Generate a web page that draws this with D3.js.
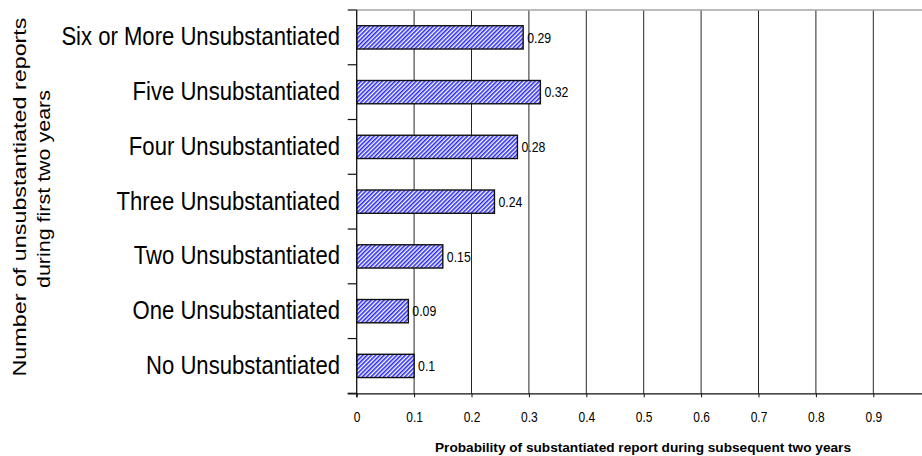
<!DOCTYPE html>
<html>
<head>
<meta charset="utf-8">
<script src="https://cdn.jsdelivr.net/npm/d3@7"></script>
<style>
  html, body { margin: 0; padding: 0; background: #fff; }
  svg { display: block; font-family: "Liberation Sans", Arial, sans-serif; }
</style>
</head>
<body>
<svg id="chart" width="922" height="456"></svg>
<script>
// Categories (top to bottom) and the probability for each
const categories = [
  "Six or More Unsubstantiated",
  "Five Unsubstantiated",
  "Four Unsubstantiated",
  "Three Unsubstantiated",
  "Two Unsubstantiated",
  "One Unsubstantiated",
  "No Unsubstantiated"
];
const probabilities = [0.29, 0.32, 0.28, 0.24, 0.15, 0.09, 0.1];
const xTickValues = [0, 0.1, 0.2, 0.3, 0.4, 0.5, 0.6, 0.7, 0.8, 0.9];
const xTickLabels = ["0", "0.1", "0.2", "0.3", "0.4", "0.5", "0.6", "0.7", "0.8", "0.9"];
const gridValues = [0.1, 0.2, 0.3, 0.4, 0.5, 0.6, 0.7, 0.8, 0.9, 1.0];
const yTitleLines = ["Number of unsubstantiated reports", "during first two years"];
const xTitle = "Probability of substantiated report during subsequent two years";

const data = categories.map((c, i) => ({ category: c, value: probabilities[i] }));

const svg = d3.select("#chart");
const plot = { left: 356.7, right: 930.7, top: 10, bottom: 393.3 };

const x = d3.scaleLinear().domain([0, 1]).range([plot.left, plot.right]);
const y = d3.scaleBand().domain(categories)
  .range([plot.top, plot.bottom])
  .paddingInner(0.575).paddingOuter(0.2875);

// Hatched fill for the bars
const defs = svg.append("defs");
const pat = defs.append("pattern")
  .attr("id", "hatch")
  .attr("patternUnits", "userSpaceOnUse")
  .attr("width", 3).attr("height", 3)
  .attr("patternTransform", "rotate(45)");
pat.append("rect").attr("width", 3).attr("height", 3).attr("fill", "#ffffff");
pat.append("rect").attr("width", 1.6).attr("height", 3).attr("fill", "#2a2af2");

// Vertical gridlines
svg.append("g")
  .selectAll("line")
  .data(gridValues)
  .join("line")
  .attr("x1", d => x(d)).attr("x2", d => x(d))
  .attr("y1", plot.top).attr("y2", plot.bottom)
  .attr("stroke", "#262626").attr("stroke-width", 1);

// Top border of the plot area
svg.append("line")
  .attr("x1", plot.left).attr("x2", 922)
  .attr("y1", plot.top).attr("y2", plot.top)
  .attr("stroke", "#a6a6a6").attr("stroke-width", 1.6);

// Bars
svg.append("g")
  .selectAll("rect")
  .data(data)
  .join("rect")
  .attr("x", x(0))
  .attr("y", d => y(d.category))
  .attr("width", d => x(d.value) - x(0))
  .attr("height", y.bandwidth())
  .attr("fill", "url(#hatch)")
  .attr("stroke", "#111")
  .attr("stroke-width", 1.4);

// Value labels
svg.append("g")
  .selectAll("text")
  .data(data)
  .join("text")
  .attr("transform", d => `translate(${x(d.value) + 4},${y(d.category) + y.bandwidth() / 2 + 5.3}) scale(0.82,1)`)
  .attr("font-size", 15)
  .attr("fill", "#000")
  .text(d => d.value);

// X axis
const xAxis = d3.axisBottom(x)
  .tickValues(xTickValues)
  .tickFormat((d, i) => xTickLabels[i])
  .tickSize(4)
  .tickSizeOuter(0);
const gx = svg.append("g")
  .attr("transform", `translate(0,${plot.bottom})`)
  .call(xAxis);
gx.select(".domain").attr("d", `M${plot.left - 9},0.5H922`).attr("stroke", "#111").attr("stroke-width", 1.3);
gx.selectAll(".tick line").attr("stroke", "#111");
gx.selectAll(".tick text")
  .attr("font-size", 15)
  .attr("font-family", "Liberation Sans, Arial, sans-serif")
  .attr("fill", "#000")
  .attr("dy", null)
  .attr("y", 29)
  .attr("transform", "scale(0.8,1)");

// Y axis line with ticks between categories
const step = y.step();
const boundaries = d3.range(categories.length + 1).map(i => plot.top + i * step);
svg.append("line")
  .attr("x1", plot.left).attr("x2", plot.left)
  .attr("y1", plot.top).attr("y2", plot.bottom + 4)
  .attr("stroke", "#111").attr("stroke-width", 1.3);
svg.append("g")
  .selectAll("line")
  .data(boundaries)
  .join("line")
  .attr("x1", plot.left - 9).attr("x2", plot.left)
  .attr("y1", d => d).attr("y2", d => d)
  .attr("stroke", "#111").attr("stroke-width", 1.2);

// Category labels
svg.append("g")
  .selectAll("text")
  .data(categories)
  .join("text")
  .attr("transform", d => `translate(340,${y(d) + y.bandwidth() / 2 + 8}) scale(0.85,1)`)
  .attr("text-anchor", "end")
  .attr("font-size", 26)
  .attr("fill", "#000")
  .text(d => d);

// Y title (two lines, rotated)
const yTitlePos = [{ x: 26, y: 197, len: 359 }, { x: 50, y: 189, len: 198 }];
svg.append("g")
  .selectAll("text")
  .data(yTitleLines)
  .join("text")
  .attr("transform", (d, i) => `translate(${yTitlePos[i].x},${yTitlePos[i].y}) rotate(-90)`)
  .attr("text-anchor", "middle")
  .attr("font-size", 18)
  .attr("textLength", (d, i) => yTitlePos[i].len)
  .attr("lengthAdjust", "spacingAndGlyphs")
  .attr("fill", "#000")
  .text(d => d);

// X title
svg.append("text")
  .attr("x", 643).attr("y", 451.5)
  .attr("text-anchor", "middle")
  .attr("font-size", 12.5)
  .attr("font-weight", "bold")
  .attr("textLength", 416)
  .attr("lengthAdjust", "spacingAndGlyphs")
  .attr("fill", "#000")
  .text(xTitle);
</script>
</body>
</html>
